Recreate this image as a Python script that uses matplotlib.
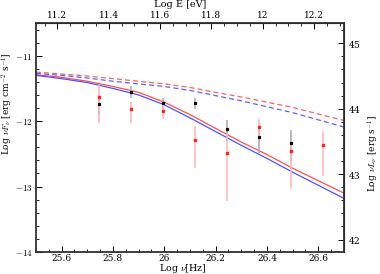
import matplotlib
matplotlib.use("Agg")
import matplotlib.pyplot as plt
from matplotlib.ticker import MultipleLocator

plt.rcParams['font.family'] = ['DejaVu Serif']
plt.rcParams['mathtext.fontset'] = 'cm'
plt.rcParams['axes.formatter.use_mathtext'] = True

# model curves, log nu vs log nuF_nu
nu_model = [25.5, 25.6, 25.7, 25.8, 25.9, 26.0, 26.1, 26.2, 26.3, 26.4, 26.5, 26.6, 26.7]
red_solid = [-11.29, -11.33, -11.39, -11.47, -11.56, -11.71, -11.90, -12.11, -12.32, -12.51, -12.72, -12.91, -13.10]
blue_solid = [-11.30, -11.35, -11.41, -11.50, -11.60, -11.75, -11.95, -12.16, -12.37, -12.57, -12.78, -12.98, -13.18]
red_dash = [-11.25, -11.28, -11.31, -11.35, -11.39, -11.43, -11.485, -11.56, -11.63, -11.71, -11.79, -11.89, -11.99]
blue_dash = [-11.27, -11.30, -11.34, -11.39, -11.43, -11.47, -11.53, -11.61, -11.69, -11.78, -11.87, -11.98, -12.09]

# red data points
red_x = [25.745, 25.87, 25.995, 26.12, 26.245, 26.37, 26.495, 26.62]
red_y = [-11.63, -11.82, -11.85, -12.29, -12.49, -12.09, -12.45, -12.37]
red_top = [-11.44, -11.70, -11.75, -12.08, -12.18, -11.96, -12.35, -12.15]
red_bot = [-12.03, -12.03, -11.97, -12.71, -13.22, -12.28, -13.03, -12.84]

# black data points
blk_x = [25.745, 25.87, 25.995, 26.12, 26.245, 26.37, 26.495]
blk_y = [-11.74, -11.56, -11.73, -11.73, -12.12, -12.24, -12.34]
blk_top = [-11.60, -11.47, -11.64, -11.65, -11.98, -12.09, -12.14]
blk_bot = [-11.90, -11.65, -11.82, -11.82, -12.30, -12.48, -12.61]

log_h = 14.3834     # log nu [Hz] -> log E [eV]
log_4pid2 = 55.81   # log nuF_nu -> log nuL_nu

fig = plt.figure(figsize=(3.8, 2.74), dpi=100)
ax = fig.add_axes([0.0947, 0.0803, 0.8105, 0.8357])

ax.errorbar(blk_x, blk_y,
            yerr=[[y - b for y, b in zip(blk_y, blk_bot)], [t - y for y, t in zip(blk_y, blk_top)]],
            fmt='s', ms=1.3, color='black', ecolor='#a8a8a8', elinewidth=1.1, capsize=0, zorder=3)
ax.errorbar(red_x, red_y,
            yerr=[[y - b for y, b in zip(red_y, red_bot)], [t - y for y, t in zip(red_y, red_top)]],
            fmt='s', ms=1.7, color='#ff2020', mec='#ff2020', ecolor='#ffb4b4', elinewidth=1.1,
            capsize=0, zorder=3)

ax.plot(nu_model, red_solid, color='#ff5050', lw=0.9)
ax.plot(nu_model, blue_solid, color='#5050ff', lw=0.9)
ax.plot(nu_model, red_dash, color='#ff6060', lw=0.9, dashes=(4, 2.5))
ax.plot(nu_model, blue_dash, color='#6060ff', lw=0.9, dashes=(4, 2.5))

ax.set_xlim(25.5, 26.7)
ax.set_ylim(-14, -10.5)
ax.xaxis.set_minor_locator(MultipleLocator(0.05))
ax.yaxis.set_minor_locator(MultipleLocator(0.2))
ax.set_xticks([25.6, 25.8, 26.0, 26.2, 26.4, 26.6])
ax.set_xticklabels(['25.6', '25.8', '26', '26.2', '26.4', '26.6'])
ax.set_yticks([-14, -13, -12, -11])
ax.set_yticklabels([r'$-14$', r'$-13$', r'$-12$', r'$-11$'])

for s in ax.spines.values():
    s.set_linewidth(1.3)
    s.set_color('#303030')

ax.tick_params(which='both', direction='in', labelsize=6.5, pad=2.5)
ax.tick_params(axis='x', pad=1.5)
ax.tick_params(which='major', length=4, width=0.7)
ax.tick_params(which='minor', length=2, width=0.6)

ax.set_xlabel(r'Log $\nu$[Hz]', fontsize=6.8, va='center')
ax.xaxis.set_label_coords(0.477, -0.071)
ax.set_ylabel(r'Log $\nu F_\nu$ [erg cm$^{-2}$ s$^{-1}$]', fontsize=6.5, va='center')
ax.yaxis.set_label_coords(-0.092, 0.646)

top = ax.secondary_xaxis('top', functions=(lambda x: x - log_h, lambda e: e + log_h))
top.xaxis.set_minor_locator(MultipleLocator(0.05))
top.set_xticks([11.2, 11.4, 11.6, 11.8, 12.0, 12.2])
top.set_xticklabels(['11.2', '11.4', '11.6', '11.8', '12', '12.2'])
top.tick_params(which='both', direction='in', labelsize=6.5, pad=2)
top.tick_params(which='major', length=4, width=0.7)
top.tick_params(which='minor', length=2, width=0.6)
top.set_xlabel('Log E [eV]', fontsize=7, va='center')
top.xaxis.set_label_coords(0.468, 1.079, transform=ax.transAxes)

right = ax.secondary_yaxis('right', functions=(lambda y: y + log_4pid2, lambda l: l - log_4pid2))
right.yaxis.set_major_locator(MultipleLocator(1))
right.yaxis.set_minor_locator(MultipleLocator(0.2))
right.tick_params(which='both', direction='in', labelsize=6.5, pad=3)
right.tick_params(which='major', length=4, width=0.7)
right.tick_params(which='minor', length=2, width=0.6)
right.set_ylabel(r'Log $\nu L_\nu$ [erg s$^{-1}$]', fontsize=6.5, va='center')
right.yaxis.set_label_coords(1.094, 0.432, transform=ax.transAxes)

fig.savefig('out.png', dpi=100)
